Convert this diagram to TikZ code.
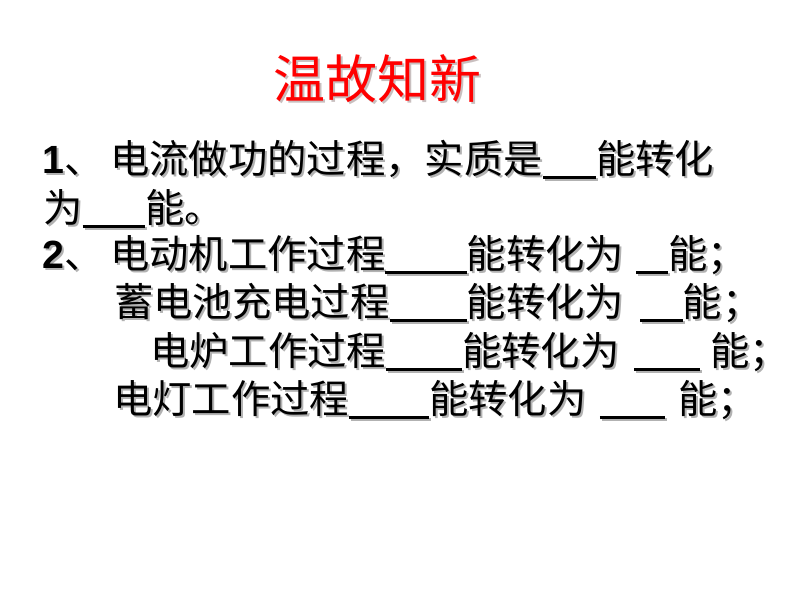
\documentclass[tikz,border=0pt]{standalone}
\usepackage{fontspec}
\setmainfont{Noto Sans CJK SC}
\newfontfamily\numfont{Liberation Sans}
\usepackage{tikz}
\tikzstyle{title} = [anchor=base, inner sep=0pt, text=red, font=\fontsize{39}{46}\selectfont]
\tikzstyle{line} = [anchor=base west, inner sep=0pt, font=\fontsize{29.5}{35}\selectfont]
\newcommand{\blank}[1]{\rule[-4.5pt]{#1pt}{2pt}}
\newcommand{\shadowed}[2][black!30]{\rlap{\hspace{1.5pt}\raisebox{-1.5pt}{\color{#1}#2}}#2}
\newcommand{\num}[1]{{\numfont\bfseries #1}}

\begin{document}
\begin{tikzpicture}[x=0.75pt,y=-0.75pt]
	\fill[white] (0,0) rectangle (800,600);
	\useasboundingbox (0,0) rectangle (800,600);
	% heading
	\node[title] (head) at (377,98) {\shadowed[red!15!black!25]{温故知新}};
	% question 1
	\node[line] (q1a) at (42,173) {\shadowed{\num{1}、\hspace{5pt}电流做功的过程，实质是\blank{40}能转化}};
	\node[line] (q1b) at (43,222) {\shadowed{为\blank{47}能。}};
	% question 2
	\node[line] (q2a) at (42,268) {\shadowed{\num{2}、\hspace{5pt}电动机工作过程\blank{61}能转化为\hspace{9pt}\blank{24}能；}};
	\node[line] (q2b) at (114,316) {\shadowed{蓄电池充电过程\blank{58}能转化为\hspace{12pt}\blank{32}能；}};
	\node[line] (q2c) at (150,365) {\shadowed{电炉工作过程\blank{57}能转化为\hspace{11pt}\blank{49}\hspace{8pt}能；}};
	\node[line] (q2d) at (113,413) {\shadowed{电灯工作过程\blank{60}能转化为\hspace{10pt}\blank{49}\hspace{10pt}能；}};
\end{tikzpicture}
\end{document}
